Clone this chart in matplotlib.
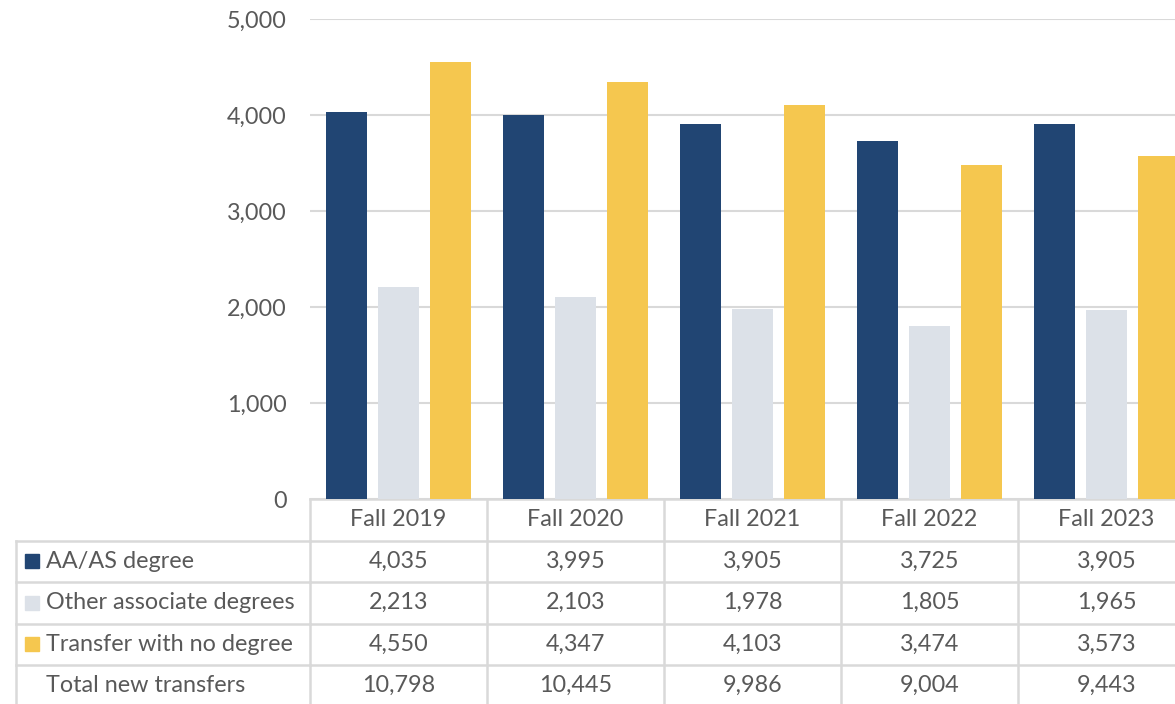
import matplotlib
matplotlib.use("Agg")
import matplotlib.pyplot as plt
import numpy as np
from matplotlib.patches import Rectangle
from matplotlib.transforms import blended_transform_factory

terms = ["Fall 2019", "Fall 2020", "Fall 2021", "Fall 2022", "Fall 2023"]
aa_as = [4035, 3995, 3905, 3725, 3905]
other_assoc = [2213, 2103, 1978, 1805, 1965]
no_degree = [4550, 4347, 4103, 3474, 3573]
totals = [10798, 10445, 9986, 9004, 9443]

series_names = ["AA/AS degree", "Other associate degrees", "Transfer with no degree"]
series_vals = [aa_as, other_assoc, no_degree]
colors = ["#214573", "#DCE1E8", "#F5C74F"]

TEXT = "#595959"
GRID = "#D9D9D9"
FS = 16.8
W, H = 1175, 704

plt.rcParams["font.family"] = ["Lato", "DejaVu Sans"]

fig = plt.figure(figsize=(W / 100, H / 100), dpi=100)
# plot area runs past the right edge, the source image is cropped
ax = fig.add_axes([310 / W, 1 - 499 / H, 885 / W, 480 / H])

x = np.arange(len(terms)) + 0.5
bw = 0.232
step = 0.294
for i, (vals, c) in enumerate(zip(series_vals, colors)):
    ax.bar(x + (i - 1) * step, vals, width=bw, color=c, zorder=3)

ax.set_xlim(0, len(terms))
ax.set_ylim(0, 5000)
ax.set_yticks(range(0, 5001, 1000))
ax.yaxis.set_major_formatter(matplotlib.ticker.FuncFormatter(lambda v, p: f"{int(v):,}"))
ax.tick_params(axis="y", length=0, pad=17, labelsize=FS, labelcolor=TEXT)
ax.set_xticks([])
ax.grid(axis="y", color=GRID, lw=1.5, zorder=0)
for s in ax.spines.values():
    s.set_visible(False)

# data table under the plot
tr = blended_transform_factory(ax.transData, fig.transFigure)
trf = fig.transFigure


def fy(py):
    return 1 - py / H


row_edges = [499, 540.5, 582, 623.5, 665, 706.5]
ln = dict(color=GRID, lw=1.8, clip_on=False)

# horizontal lines across the value columns
for py in row_edges:
    ax.plot([0, len(terms)], [fy(py)] * 2, transform=tr, **ln)
# label column lines
for py in row_edges[1:]:
    fig.add_artist(plt.Line2D([16 / W, 310 / W], [fy(py)] * 2, **ln))
fig.add_artist(plt.Line2D([16 / W] * 2, [fy(row_edges[1]), fy(row_edges[-1])], **ln))
# vertical lines between columns
for k in range(len(terms) + 1):
    ax.plot([k, k], [fy(row_edges[0]), fy(row_edges[-1])], transform=tr, **ln)

centers = [(a + b) / 2 for a, b in zip(row_edges[:-1], row_edges[1:])]
for xi, t in zip(x, terms):
    ax.text(xi, fy(centers[0]), t, transform=tr, ha="center", va="center",
            fontsize=FS, color=TEXT)

rows = series_vals + [totals]
labels = series_names + ["Total new transfers"]
for r, (lab, vals) in enumerate(zip(labels, rows)):
    cy = fy(centers[r + 1])
    for xi, v in zip(x, vals):
        ax.text(xi, cy, f"{v:,}", transform=tr, ha="center", va="center",
                fontsize=FS, color=TEXT)
    fig.text(46 / W, cy, lab, ha="left", va="center", fontsize=FS, color=TEXT)
    if r < 3:
        fig.add_artist(Rectangle((25 / W, cy - 7 / H), 14 / W, 14 / H,
                                 transform=trf, color=colors[r]))

fig.savefig("out.png", dpi=100)
